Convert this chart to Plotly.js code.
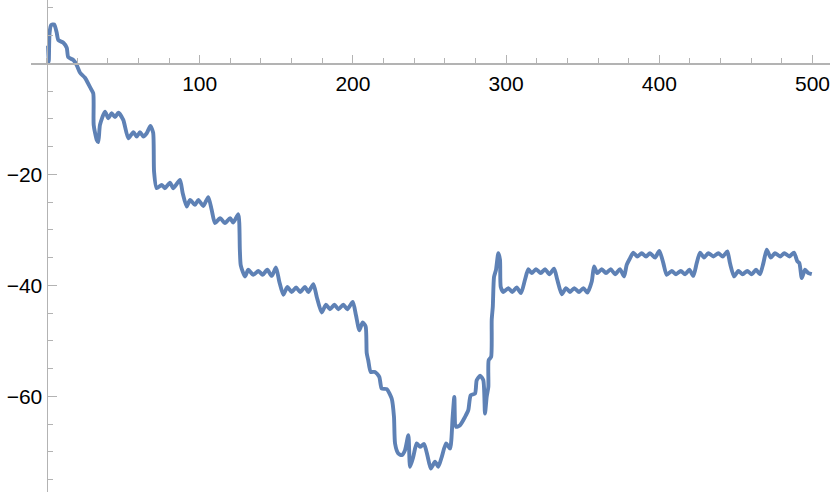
<!DOCTYPE html>
<html>
<head>
<meta charset="utf-8">
<script src="https://cdn.plot.ly/plotly-3.0.1.min.js"></script>
<style>
  html, body { margin: 0; padding: 0; background: #fff; }
  #plot { width: 830px; height: 497px; }
</style>
</head>
<body>
<div id="plot"></div>
<script>
// values (x = step index, y = level)
const xs = [
  1, 1.5, 2, 3, 5, 6.6, 7.7, 11, 13.2, 14.2, 17.5, 19.7, 21.9, 25.1, 28.4, 30.5,
  30.8, 32.8, 33.8, 34.9, 38.2, 40.3, 42.5, 44.7, 46.9, 50.1, 53.4, 56.7, 58.9, 61, 63.2, 65.4,
  67.8, 69.6, 70.2, 71.9, 75.2, 77.3, 80.6, 82.8, 87.1, 88.9, 91.5, 93.7, 96.9, 99.1, 102.3, 105.6,
  107.8, 110, 113.3, 116.5, 119.8, 121.9, 125.2, 126.2, 126.8, 129.6, 131.7, 135, 138.3, 141.1,
  144.1, 147, 149.8, 152, 154.6, 157.2, 160, 162.9, 165.5, 168.7, 170.9, 174.2, 176.4, 179.6,
  182.4, 185, 187.9, 190.5, 193.7, 196.3, 199.9, 202, 204.2, 206.3, 208.3, 209, 210, 211.6,
  214.4, 217.2, 218.8, 222.1, 225.3, 226.8, 227.5, 229.6, 231.9, 234, 236.2, 237.3, 239.4, 241.6,
  243.8, 246.4, 248.6, 250.8, 253.6, 255.7, 258, 260.8, 263.4, 265.1, 266.2, 267.3, 269.9, 273.2,
  275.3, 276.9, 279.7, 280.8, 283, 285.1, 286.2, 287.3, 288.4, 288.6, 290.2, 290.6, 291.3, 292.1,
  293.4, 294.9, 296, 296.5, 298.2, 301.4, 304, 306.9, 309.7, 312.3, 314.5, 316.7, 319.5, 322.6,
  325.4, 328.2, 331.3, 333.4, 336.3, 339.1, 341.7, 344.5, 347.6, 350.4, 353, 355.9, 357.4, 359.5,
  362.4, 365.2, 368.3, 371.1, 374.3, 377, 378.7, 380.9, 383, 385.6, 388.5, 391.3, 393.9, 397.2,
  400, 402.6, 404.8, 408.1, 410.9, 414, 416.8, 419.6, 422.2, 424.4, 426.6, 429.2, 432, 435.3,
  438.5, 441.4, 444.4, 446.1, 448.8, 451.6, 454.4, 457.4, 460.3, 463.1, 465.7, 467.9, 470.1, 472.7,
  475.5, 478.8, 481.6, 484.9, 487.9, 490.1, 491.4, 493, 495.1, 497.3, 499.5
];
const ys = [
  3.2, 0.3, 5.5, 6.9, 7.0, 5.6, 4.2, 3.7, 2.8, 1.1, 0.6, -0.3, -1.7, -2.6, -4.3, -5.4,
  -11.1, -13.8, -14.2, -11.1, -8.7, -9.9, -9.0, -9.7, -8.9, -10.2, -13.5, -12.4, -13.2, -12.4, -13.2, -12.6,
  -11.3, -12.5, -19.5, -22.5, -21.9, -22.5, -21.5, -22.5, -21.0, -23.4, -25.8, -24.6, -25.5, -24.6, -25.7, -24.1,
  -26.4, -28.8, -27.9, -28.8, -27.9, -28.7, -27.2, -33.6, -36.4, -38.4, -37.2, -38.1, -37.4, -38.1,
  -37.2, -38.3, -36.8, -39.4, -41.7, -40.3, -41.2, -40.4, -41.2, -40.3, -41.2, -39.8, -42.1, -44.9,
  -43.5, -44.3, -43.5, -44.3, -43.5, -44.3, -43.0, -45.4, -48.1, -46.7, -47.4, -52.2, -53.5, -55.6,
  -55.6, -56.5, -58.6, -58.7, -60.4, -63.7, -68.5, -70.3, -70.6, -69.7, -67.0, -72.7, -70.9, -68.5,
  -69.1, -68.6, -70.6, -73.0, -71.8, -72.7, -70.9, -68.5, -69.4, -63.7, -60.1, -65.5, -65.2, -63.7,
  -62.5, -59.8, -59.5, -57.1, -56.3, -57.1, -63.1, -60.1, -58.3, -53.5, -52.9, -46.2, -43.9, -38.5,
  -37.2, -34.2, -35.4, -40.3, -41.2, -40.5, -41.2, -40.4, -41.4, -39.0, -37.1, -37.8, -37.1, -37.8,
  -37.1, -38.0, -37.0, -39.0, -41.6, -40.5, -41.2, -40.5, -41.2, -40.5, -41.3, -39.3, -36.6, -37.8,
  -37.1, -37.8, -37.1, -38.0, -37.1, -38.4, -36.3, -35.1, -34.1, -34.8, -34.2, -34.8, -34.2, -35.0,
  -33.8, -36.0, -38.1, -37.4, -38.0, -37.4, -38.0, -37.2, -38.3, -36.0, -34.1, -35.0, -34.2, -34.8,
  -34.2, -34.8, -33.9, -36.0, -38.4, -37.4, -38.0, -37.4, -38.0, -37.2, -38.0, -36.0, -33.6, -35.0,
  -34.2, -34.8, -34.2, -34.8, -34.1, -35.7, -36.0, -38.7, -37.2, -37.8, -38.0
];
const xTickVals = [100, 200, 300, 400, 500];
const yTickVals = [-60, -40, -20];

const xRange = [-10.12, 511.4];
const yRange = [-77.24, 11.41];

const axisGray = '#b3b3b3';
const tickFont = { family: 'Liberation Sans, Arial, sans-serif', size: 21, color: '#000' };

const trace = {
  x: xs, y: ys, type: 'scatter', mode: 'lines',
  line: { color: 'rgb(94,129,181)', width: 3.9, shape: 'spline', smoothing: 0.6 },
  hoverinfo: 'skip'
};

const layout = {
  width: 830, height: 497,
  margin: { l: 31, r: 0, t: 0, b: 5, pad: 0 },
  showlegend: false,
  paper_bgcolor: '#fff', plot_bgcolor: '#fff',
  xaxis: {
    range: xRange, anchor: 'free',
    position: (0 - yRange[0]) / (yRange[1] - yRange[0]),
    showgrid: false, zeroline: false,
    showline: true, linecolor: axisGray, linewidth: 1.2,
    tickmode: 'array', tickvals: xTickVals,
    ticks: 'inside', ticklen: 8, tickcolor: axisGray, tickwidth: 1,
    ticklabelstandoff: 1, ticklabeloverflow: 'allow',
    minor: { dtick: 20, tick0: 0, ticks: 'inside', ticklen: 5, tickcolor: axisGray, tickwidth: 1, showgrid: false },
    tickfont: tickFont
  },
  yaxis: {
    range: yRange, anchor: 'free',
    position: (0 - xRange[0]) / (xRange[1] - xRange[0]),
    showgrid: false, zeroline: false,
    showline: true, linecolor: axisGray, linewidth: 1.2,
    tickmode: 'array', tickvals: yTickVals,
    ticks: 'inside', ticklen: 9, tickcolor: axisGray, tickwidth: 1,
    ticklabeloverflow: 'allow',
    minor: { dtick: 5, tick0: 0, ticks: 'inside', ticklen: 5, tickcolor: axisGray, tickwidth: 1, showgrid: false },
    tickfont: tickFont
  }
};

Plotly.newPlot('plot', [trace], layout, { staticPlot: true, displayModeBar: false });
</script>
</body>
</html>
